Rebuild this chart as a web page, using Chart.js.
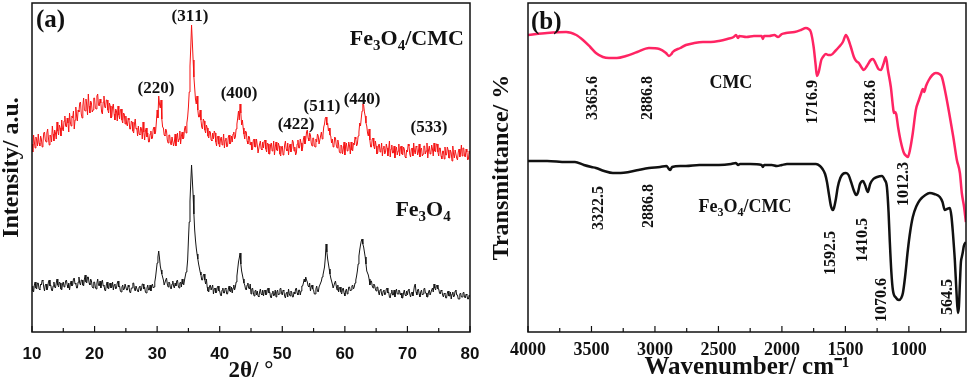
<!DOCTYPE html>
<html><head><meta charset="utf-8">
<script src="https://cdn.jsdelivr.net/npm/chart.js@4.4.0/dist/chart.umd.min.js"></script>
<style>
html,body{margin:0;padding:0;background:#fff;}
#wrap{position:relative;width:971px;height:383px;overflow:hidden;}
#ca{position:absolute;left:0;top:0;}
#cb{position:absolute;left:486px;top:0;}
</style></head><body>
<div id="wrap"><canvas id="ca" width="485" height="383"></canvas><canvas id="cb" width="485" height="383"></canvas></div>
<script>
// ---------------- DATA ----------------
// XRD (a): measured every 0.125 deg from 10 to 80 (2theta), intensity in a.u.
const xrdStart = 10, xrdStep = 0.125;
const xrdFe3O4CMC = [
188,180,197,190,184,195,192,186, 198,189,186,196,193,185,189,199, 200,192,190,199,203,194,187,197,
196,190,206,198,191,202,199,193, 210,201,197,207,204,196,212,203, 201,211,216,206,205,214,209,200,
219,210,206,216,214,221,203,212, 225,216,211,222,220,229,230,218, 214,226,234,222,221,233,227,217,
238,226,219,231,229,220,222,234, 234,224,223,236,238,227,226,233, 229,220,218,230,236,225,224,232,
232,222,219,229,226,214,215,225, 228,218,212,223,221,211,226,217, 213,222,223,212,209,219,218,208,
216,208,206,214,212,203,203,211, 210,201,199,208,213,203,204,196, 206,198,197,205,203,193,210,200,
192,201,204,195,199,190,190,198, 201,193,194,203,205,198,200,210, 222,214,236,228,224,232,213,205,
204,197,196,203,201,192,189,197, 197,189,187,195,195,186,190,198, 186,194,199,190,193,201,188,196,
200,193,194,203,206,199,209,215, 225,240,266,285,307,290,272,255, 244,233,228,236,222,215,215,222,
212,205,203,213,211,202,199,207, 204,196,194,201,200,192,191,199, 193,201,199,190,186,195,196,188,
185,193,195,187,190,198,184,192, 194,185,186,195,197,188,189,196, 190,198,200,193,195,203,208,214,
221,212,228,219,207,212,204,198, 193,201,200,191,188,196,195,187, 190,182,183,192,193,185,185,193,
187,179,179,188,191,183,182,190, 184,191,192,183,180,189,188,178, 178,187,189,181,183,191,177,185,
190,182,181,189,186,178,176,185, 186,177,178,187,191,183,181,189, 177,185,188,180,183,192,190,181,
185,177,179,188,192,184,184,193, 189,181,184,193,196,188,192,200, 202,194,191,199,197,189,186,194,
194,186,185,193,190,198,196,188, 188,196,200,193,197,205,208,214, 215,207,209,201,204,197,196,189,
193,185,186,195,194,187,184,192, 188,180,179,187,186,178,183,190, 177,186,189,181,182,190,186,178,
190,182,181,189,187,195,193,186, 188,196,200,209,206,214,221,228, 227,220,216,209,206,199,196,203,
192,185,185,193,194,186,183,191, 186,178,179,187,188,180,182,189, 176,184,186,178,180,188,184,176,
183,191,175,183,187,179,179,186, 174,182,185,177,181,188,176,184, 186,178,177,185,183,175,174,182,
180,188,186,178,175,183,184,176, 189,181,178,186,185,177,180,188, 175,183,184,176,178,186,186,178,
181,189,174,182,186,178,179,187, 183,176,189,181,180,188,188,180, 176,184,184,176,173,181,181,173,
185,177,177,185,182,174,174,182, 179,171,186,178,174,182,182,174, 172,180,183,175,179,187,176,184,
184,176,175,183,180,172,173,181,
178];
const xrdFe3O4 = [
46,41,40,47,50,44,43,49, 49,43,42,48,47,52,51,45, 41,47,48,42,44,50,52,46,
47,42,41,46,50,45,44,49, 53,47,45,50,49,43,42,48, 50,45,46,51,52,47,44,49,
42,48,51,46,47,53,54,48, 49,44,44,50,55,49,47,52, 52,47,46,53,57,50,49,55,
55,49,47,53,51,45,44,50, 50,45,43,49,53,47,46,51, 44,49,52,46,47,42,41,47,
50,44,43,48,49,44,45,50, 42,47,48,43,44,49,51,45, 46,41,40,45,47,42,43,48,
48,42,42,47,45,40,39,44, 44,49,49,43,41,46,46,41, 40,45,46,41,43,48,48,43,
45,40,39,44,47,42,42,47, 41,46,48,44,45,50,55,62, 69,75,81,74,66,62,58,55,
52,47,47,52,54,48,45,50, 49,44,43,48,51,46,44,49, 46,51,52,46,44,49,50,45,
53,48,47,52,56,60,63,72, 92,110,131,150,167,152,137,118, 102,92,84,78,73,68,64,60,
57,52,52,57,58,52,48,53, 45,41,40,46,47,42,42,47, 38,43,44,39,40,45,46,41,
41,37,36,42,44,39,39,44, 43,38,38,43,46,41,40,45, 39,44,47,42,45,50,56,63,
70,74,79,68,61,57,53,49, 47,43,42,47,49,44,43,48, 38,43,44,39,36,41,42,37,
41,36,35,40,43,38,37,42, 36,41,42,37,38,43,44,39, 40,35,34,39,41,36,37,42,
35,40,42,37,38,43,44,39, 37,42,41,36,34,39,40,35, 43,38,36,41,40,35,35,40,
38,43,44,39,37,42,42,37, 41,46,46,49,53,50,55,52, 50,46,45,49,41,45,47,43,
42,38,38,43,46,41,40,45, 45,49,51,55,57,61,65,74, 88,80,73,68,63,58,54,51,
48,44,44,49,51,46,42,47, 40,44,45,40,38,43,44,39, 36,41,43,38,40,45,45,41,
42,46,47,43,45,49,52,56, 61,68,76,82,87,91,93,88, 85,80,75,68,61,59,57,53,
47,51,51,46,44,48,47,43, 41,45,45,40,37,42,43,38, 36,41,42,37,38,43,44,39,
40,35,34,39,42,37,37,42, 35,40,43,38,38,42,41,37, 39,34,34,39,42,37,36,41,
37,42,43,38,35,39,40,36, 41,46,48,40,37,42,43,38, 35,40,42,37,38,43,44,39,
39,35,35,40,42,37,37,42, 44,40,48,44,42,46,47,43, 43,39,38,42,41,37,35,39,
38,34,34,39,41,36,36,40, 33,38,40,35,36,41,42,37, 37,33,33,38,39,35,35,39,
40,35,34,38,37,33,33,37,
35];
const xrdTicks = [10,15,20,25,30,35,40,45,50,55,60,65,70,75,80];
const xrdPeakLabels = ['(311)','(220)','(400)','(422)','(511)','(440)','(533)'];

// FTIR (b): CMC
const ftirWaveCMC = [4000,3850,3700,3620,3567,3510,3465,3410,3362,3300,3228,3140,3047,2965,2913,2890,2870,2860,2800,2756,2690,2622,2560,2496,2430,2380,2362,2345,2336,2280,2220,2160,2150,2140,2100,2060,2030,2000,1968,1900,1850,1811,1790,1772,1750,1735,1724,1710,1690,1677,1654,1635,1614,1580,1551,1520,1496,1475,1457,1433,1415,1394,1375,1355,1330,1300,1283,1260,1240,1220,1200,1181,1165,1142,1125,1118,1110,1100,1085,1063,1039,1020,1008,990,969,945,921,905,890,880,865,843,815,788,760,740,710,677,650,622,598,583,565,551];
const ftirCMC =     [297,299,300,297,292,285,279,275,274,274,276,280,284,283,279,276,278,280,284,287,289,290,290,291,293,295,297,294,296,295,296,296,293,296,296,297,295,298,299,300,302,304,303,300,285,268,256,260,272,275,278,277,277,281,285,290,297,292,285,275,271,269,265,262,266,272,273,268,263,262,268,275,262,245,225,219,220,218,205,190,179,176,175,183,199,222,232,238,243,240,246,252,257,259,258,255,238,215,195,172,159,139,125,110];
// FTIR (b): Fe3O4/CMC
const ftirWaveFe = [4000,3850,3700,3630,3560,3500,3465,3400,3331,3270,3205,3130,3047,2960,2910,2890,2880,2865,2800,2756,2650,2550,2496,2400,2362,2345,2330,2250,2160,2150,2140,2080,2040,2000,1960,1900,1850,1780,1732,1700,1680,1660,1645,1630,1614,1600,1590,1575,1560,1540,1520,1496,1475,1455,1435,1415,1400,1385,1362,1345,1323,1305,1280,1250,1213,1190,1173,1160,1150,1138,1126,1100,1079,1060,1047,1030,1008,990,969,940,913,870,835,800,756,735,717,700,677,665,653,645,638,625,614,606,598,590,583,575,567,551];
const ftirFeCMC =  [171,171,170,170,167,165,164,161,159,159,160,162,164,165,166,163,162,165,166,166,167,167,167,168,169,167,168,168,167,165,167,167,166,167,168,168,168,168,168,166,163,158,150,138,126,122,124,133,145,154,158,159,157,150,142,137,140,148,151,147,140,148,153,155,156,152,145,120,90,60,42,34,32,34,39,55,82,100,115,126,132,137,139,138,135,130,122,123,124,116,99,85,72,40,19,25,49,70,75,80,86,90];
const ftirTicks = [4000,3750,3500,3250,3000,2750,2500,2250,2000,1750,1500,1250,1000,750];

// ---------------- STYLE / HELPERS ----------------
const SERIF = "'Liberation Serif','Times New Roman',serif";
const SANS = "'Liberation Sans',Arial,sans-serif";
const INK = '#111111';

function drawRich(ctx, text, x, y, size, rot) {
  const segs = [];
  for (let i = 0; i < text.length; i++) {
    if (text[i] === '_' && i + 1 < text.length) { segs.push({t: text[i+1], sub: true}); i++; }
    else segs.push({t: text[i], sub: false});
  }
  const mainF = 'bold ' + size + 'px ' + SERIF;
  const subF = 'bold ' + Math.round(size * 0.68) + 'px ' + SERIF;
  let w = 0;
  segs.forEach(s => { ctx.font = s.sub ? subF : mainF; s.w = ctx.measureText(s.t).width; w += s.w; });
  ctx.save();
  ctx.translate(x, y);
  if (rot) ctx.rotate(rot);
  ctx.fillStyle = INK;
  ctx.textBaseline = 'middle';
  ctx.textAlign = 'left';
  let cx = -w / 2;
  segs.forEach(s => {
    ctx.font = s.sub ? subF : mainF;
    ctx.fillText(s.t, cx, s.sub ? size * 0.33 : 0);
    cx += s.w;
  });
  ctx.restore();
}

const framePlugin = {
  id: 'frame',
  afterDraw(chart, args, opts) {
    const {ctx, chartArea: a} = chart;
    const xs = chart.scales.x;
    ctx.save();
    ctx.strokeStyle = INK;
    ctx.lineWidth = 1.5;
    ctx.strokeRect(a.left, a.top, a.right - a.left, a.bottom - a.top);
    ctx.lineWidth = 1.2;
    xs.ticks.forEach(t => {
      const px = xs.getPixelForValue(t.value);
      const len = (t.value % opts.majorEvery === 0) ? 6 : 4;
      ctx.beginPath();
      ctx.moveTo(px, a.bottom);
      ctx.lineTo(px, a.bottom - len);
      ctx.stroke();
    });
    ctx.restore();
  }
};

const labelPlugin = {
  id: 'labels',
  afterDatasetsDraw(chart, args, opts) {
    const {ctx, chartArea: a} = chart;
    const xs = chart.scales.x, ys = chart.scales.y;
    (opts.items || []).forEach(it => {
      drawRich(ctx, it.t, xs.getPixelForValue(it.x), ys.getPixelForValue(it.y), it.size, it.rot ? -Math.PI / 2 : 0);
    });
    if (opts.panel) {
      ctx.save();
      ctx.font = 'bold ' + opts.panel.size + 'px ' + SERIF;
      ctx.fillStyle = INK;
      ctx.textBaseline = 'middle';
      ctx.textAlign = 'left';
      ctx.fillText(opts.panel.t, a.left + opts.panel.dx, a.top + opts.panel.dy);
      ctx.restore();
    }
  }
};

function xrdPoints(vals) { return vals.map((v, i) => ({x: xrdStart + i * xrdStep, y: v})); }
function pairs(xs, ys) { return xs.map((x, i) => ({x: x, y: ys[i]})); }
function fitX(s) { s.height = 51; s.paddingLeft = 0; s.paddingRight = 0; }

// ---------------- CHART (a) ----------------
new Chart(document.getElementById('ca'), {
  type: 'line',
  data: { datasets: [
    { label: 'Fe3O4/CMC', data: xrdPoints(xrdFe3O4CMC), borderColor: '#f51414', borderWidth: 1, pointRadius: 0, tension: 0 },
    { label: 'Fe3O4', data: xrdPoints(xrdFe3O4), borderColor: '#151515', borderWidth: 1, pointRadius: 0, tension: 0 }
  ]},
  options: {
    responsive: false, animation: false, devicePixelRatio: 1,
    layout: { padding: { left: 0, right: 15, top: 3, bottom: 0 } },
    plugins: {
      legend: { display: false }, tooltip: { enabled: false },
      frame: { majorEvery: 10 },
      labels: {
        panel: { t: '(a)', size: 25, dx: 4, dy: 18 },
        items: [
          { t: xrdPeakLabels[0], x: 35.25, y: 315, size: 17 },
          { t: xrdPeakLabels[1], x: 29.8, y: 243, size: 17 },
          { t: xrdPeakLabels[2], x: 43.1, y: 238, size: 17 },
          { t: xrdPeakLabels[3], x: 52.2, y: 207, size: 17 },
          { t: xrdPeakLabels[4], x: 56.35, y: 225, size: 17 },
          { t: xrdPeakLabels[5], x: 62.75, y: 232, size: 17 },
          { t: xrdPeakLabels[6], x: 73.45, y: 204, size: 17 },
          { t: 'Fe_3O_4/CMC', x: 69.9, y: 293, size: 22 },
          { t: 'Fe_3O_4', x: 72.5, y: 122, size: 22 }
        ]
      }
    },
    scales: {
      x: {
        type: 'linear', min: 10, max: 80,
        afterBuildTicks: s => { s.ticks = xrdTicks.map(v => ({value: v})); },
        afterFit: fitX,
        grid: { display: false, drawTicks: false },
        border: { display: false },
        ticks: { autoSkip: false, maxRotation: 0, padding: 12, color: INK,
          font: { family: SANS, weight: 'bold', size: 17 },
          callback: v => (v % 10 === 0 ? String(v) : '') },
        title: { display: true, text: '2θ/ °', color: INK, padding: { top: 0, bottom: 0 },
          font: { family: SERIF, weight: 'bold', size: 23, lineHeight: 1 } }
      },
      y: {
        min: 0, max: 329,
        afterFit: s => { s.width = 32; },
        grid: { display: false, drawTicks: false },
        border: { display: false },
        ticks: { display: false },
        title: { display: true, text: 'Intensity/ a.u.', color: INK, padding: { top: 0, bottom: 0 },
          font: { family: SERIF, weight: 'bold', size: 24, lineHeight: 1 } }
      }
    }
  },
  plugins: [framePlugin, labelPlugin]
});

// ---------------- CHART (b) ----------------
new Chart(document.getElementById('cb'), {
  type: 'line',
  data: { datasets: [
    { label: 'CMC', data: pairs(ftirWaveCMC, ftirCMC), borderColor: '#ff2463', borderWidth: 2.5, pointRadius: 0, cubicInterpolationMode: 'monotone' },
    { label: 'Fe3O4/CMC', data: pairs(ftirWaveFe, ftirFeCMC), borderColor: '#111111', borderWidth: 2.5, pointRadius: 0, cubicInterpolationMode: 'monotone' }
  ]},
  options: {
    responsive: false, animation: false, devicePixelRatio: 1,
    layout: { padding: { left: 0, right: 5, top: 3, bottom: 0 } },
    plugins: {
      legend: { display: false }, tooltip: { enabled: false },
      frame: { majorEvery: 500 },
      labels: {
        panel: { t: '(b)', size: 25, dx: 3, dy: 20 },
        items: [
          { t: '3365.6', x: 3488, y: 234, size: 16, rot: true },
          { t: '2886.8', x: 3055, y: 234, size: 16, rot: true },
          { t: '1716.9', x: 1756, y: 230, size: 16, rot: true },
          { t: '1228.6', x: 1299, y: 230, size: 16, rot: true },
          { t: '1012.3', x: 1039, y: 148, size: 16, rot: true },
          { t: '3322.5', x: 3441, y: 124, size: 16, rot: true },
          { t: '2886.8', x: 3047, y: 126, size: 16, rot: true },
          { t: '1592.5', x: 1614, y: 79, size: 16, rot: true },
          { t: '1410.5', x: 1362, y: 92, size: 16, rot: true },
          { t: '1070.6', x: 1213, y: 32, size: 16, rot: true },
          { t: '564.5', x: 693, y: 35, size: 16, rot: true },
          { t: 'CMC', x: 2402, y: 249, size: 18 },
          { t: 'Fe_3O_4/CMC', x: 2291, y: 125, size: 18 }
        ]
      }
    },
    scales: {
      x: {
        type: 'linear', min: 550, max: 4000, reverse: true,
        afterBuildTicks: s => { s.ticks = ftirTicks.map(v => ({value: v})); },
        afterFit: fitX,
        grid: { display: false, drawTicks: false },
        border: { display: false },
        ticks: { autoSkip: false, maxRotation: 0, padding: 8, color: INK,
          font: { family: SERIF, weight: 'bold', size: 18 },
          callback: v => (v % 500 === 0 ? String(v) : '') },
        title: { display: true, text: 'Wavenumber/ cm⁻¹', color: INK, padding: { top: 0, bottom: 3 },
          font: { family: SERIF, weight: 'bold', size: 25, lineHeight: 1 } }
      },
      y: {
        min: 0, max: 329,
        afterFit: s => { s.width = 42; },
        grid: { display: false, drawTicks: false },
        border: { display: false },
        ticks: { display: false },
        title: { display: true, text: 'Transmittance/ %', color: INK, padding: { top: 4, bottom: 0 },
          font: { family: SERIF, weight: 'bold', size: 24, lineHeight: 1 } }
      }
    }
  },
  plugins: [framePlugin, labelPlugin]
});
</script>
</body></html>
